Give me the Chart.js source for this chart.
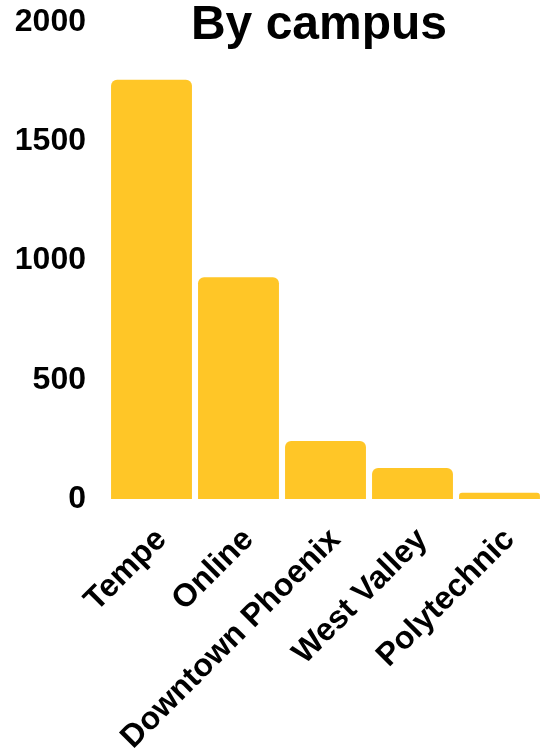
<!DOCTYPE html>
<html>
<head>
<meta charset="utf-8">
<script src="https://cdn.jsdelivr.net/npm/chart.js@4"></script>
<style>
  html, body { margin: 0; padding: 0; background: #fff; }
  #wrap { position: relative; width: 543px; height: 750px; }
  #title {
    position: absolute; top: -1px; left: 190px; width: 258px;
    text-align: center; white-space: nowrap;
    font: bold 48px/48px "Liberation Sans", Arial, sans-serif; color: #000;
  }
</style>
</head>
<body>
<div id="wrap">
  <canvas id="campus-chart" width="543" height="750"></canvas>
  <div id="title">By campus</div>
</div>
<script>
// By campus - enrollment counts
const campuses = ["Tempe", "Online", "Downtown Phoenix", "West Valley", "Polytechnic"];
const counts = [1758, 930, 243, 130, 26];
const yTicks = [0, 500, 1000, 1500, 2000];

const ctx = document.getElementById("campus-chart").getContext("2d");
const tickFont = { family: "'Liberation Sans', Arial, sans-serif", size: 32, weight: "bold" };

new Chart(ctx, {
  type: "bar",
  data: {
    labels: campuses,
    datasets: [
      {
        data: counts,
        backgroundColor: "#FFC627",
        borderRadius: { topLeft: 6, topRight: 6 },
        borderSkipped: "bottom",
        categoryPercentage: 1,
        barPercentage: 0.93,
      },
    ],
  },
  options: {
    responsive: false,
    animation: false,
    layout: { padding: { left: 14, top: 22, right: 0, bottom: 0 } },
    plugins: { legend: { display: false }, tooltip: { enabled: false } },
    scales: {
      x: {
        grid: { display: false },
        border: { display: false },
        ticks: {
          color: "#000",
          font: tickFont,
          minRotation: 45,
          maxRotation: 45,
          padding: 14,
          labelOffset: 10,
        },
        afterFit: (axis) => {
          axis.height = 251;
          axis.paddingLeft = 0;
          axis.paddingRight = 0;
        },
      },
      y: {
        min: yTicks[0],
        max: yTicks[yTicks.length - 1],
        afterBuildTicks: (axis) => { axis.ticks = yTicks.map((v) => ({ value: v })); },
        grid: { display: false },
        border: { display: false },
        ticks: {
          color: "#000",
          font: tickFont,
          padding: 14,
          callback: (v) => String(v),
        },
        afterFit: (axis) => {
          axis.width = 94;
          axis.paddingTop = 0;
          axis.paddingBottom = 0;
        },
      },
    },
  },
});
</script>
</body>
</html>
